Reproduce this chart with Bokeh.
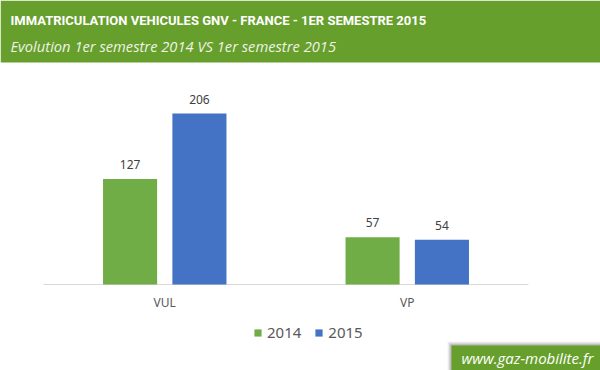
from bokeh.plotting import figure
from bokeh.models import Range1d, ColumnDataSource, Legend, LegendItem
from bokeh.core.properties import value
from bokeh.embed import file_html
from bokeh.resources import INLINE

# ---- data ----
categories = ["VUL", "VP"]
series_names = ["2014", "2015"]
values_2014 = [127, 57]
values_2015 = [206, 54]
title_text = "IMMATRICULATION VEHICULES GNV - FRANCE - 1ER SEMESTRE 2015"
subtitle_text = "Evolution 1er semestre 2014 VS 1er semestre 2015"
watermark_text = "www.gaz-mobilite.fr"

GREEN_HDR = "#669F2B"
C2014 = "#70AD47"
C2015 = "#4472C4"

W, H = 600, 370
PX_PER_UNIT_Y = 0.830
ZERO_Y = 284  # canvas px of value 0 (from top)
X_LEFT = 43
PX_PER_CAT = 242.5

y0 = -(H - ZERO_Y) / PX_PER_UNIT_Y
y1 = ZERO_Y / PX_PER_UNIT_Y
x0 = -X_LEFT / PX_PER_CAT
x1 = (W - X_LEFT) / PX_PER_CAT

def fy(py):  # canvas pixel (from top) -> data y
    return (ZERO_Y - py) / PX_PER_UNIT_Y

def fx(px):
    return (px - X_LEFT) / PX_PER_CAT

p = figure(width=W, height=H, output_backend="svg", toolbar_location=None,
           x_range=Range1d(x0, x1), y_range=Range1d(y0, y1),
           min_border=0, min_border_left=0, min_border_right=0,
           min_border_top=0, min_border_bottom=0)
p.axis.visible = False
p.grid.visible = False
p.outline_line_color = None
p.background_fill_color = "white"
p.border_fill_color = "white"

# header band
p.quad(left=x0, right=x1, top=y1, bottom=fy(62), fill_color=GREEN_HDR, line_color=None)
p.text(x=[fx(10)], y=[fy(20)], text=[title_text],
       text_font=value("Roboto"), text_font_style="bold",
       text_font_size="13px", text_color="white", text_baseline="middle")
p.text(x=[fx(10)], y=[fy(45)], text=[subtitle_text],
       text_font=value("Open Sans"), text_font_style="italic",
       text_font_size="14.7px", text_color="#EEF3E6", text_baseline="middle")

# axis line
n = len(categories)
p.line(x=[0, n], y=[0, 0], line_color="#D9D9D9", line_width=1)

centers = [i + 0.5 for i in range(n)]
off = 0.143
bw = 0.223
src = ColumnDataSource(dict(
    cat=categories,
    x14=[c - off for c in centers], x15=[c + off for c in centers],
    v14=values_2014, v15=values_2015,
    l14=[str(v) for v in values_2014], l15=[str(v) for v in values_2015],
    xc=centers, zero=[0] * n,
))
r14 = p.vbar(x="x14", top="v14", bottom=0, width=bw, source=src, fill_color=C2014, line_color=None)
r15 = p.vbar(x="x15", top="v15", bottom=0, width=bw, source=src, fill_color=C2015, line_color=None)

lab_kw = dict(text_font=value("Noto Sans"), text_font_size="12px", text_color="#404040",
              text_align="center", text_baseline="bottom", y_offset=-10)
p.text(x="x14", y="v14", text="l14", source=src, **lab_kw)
p.text(x="x15", y="v15", text="l15", source=src, **lab_kw)

# category labels
p.text(x="xc", y="zero", text="cat", source=src, text_font=value("Noto Sans"),
       text_font_size="12px", text_color="#595959", text_align="center",
       text_baseline="middle", y_offset=18)

# legend
legend = Legend(items=[LegendItem(label=series_names[0], renderers=[r14]),
                       LegendItem(label=series_names[1], renderers=[r15])],
                orientation="horizontal", location=(253, 28),
                glyph_width=9, glyph_height=9, label_height=9, label_standoff=5,
                spacing=13, padding=0, margin=0,
                label_text_font="Noto Sans", label_text_font_size="15px",
                label_text_color="#595959", label_text_baseline="middle",
                border_line_color=None, background_fill_alpha=0)
p.add_layout(legend)

# watermark with soft shadow
for d, a in [(4, 0.05), (3, 0.07), (2, 0.09), (1, 0.12)]:
    p.quad(left=fx(451 - d), right=x1, top=fy(345 - d), bottom=y0,
           fill_color="#000000", fill_alpha=a, line_color=None)
p.quad(left=fx(451), right=x1, top=fy(345), bottom=y0,
       fill_color=GREEN_HDR, line_color=None)
p.text(x=[fx(461)], y=[fy(357)], text=[watermark_text],
       text_font=value("Open Sans"), text_font_style="italic",
       text_font_size="15px", text_color="white", text_baseline="middle")

open("out.html", "w").write(file_html(p, INLINE))
